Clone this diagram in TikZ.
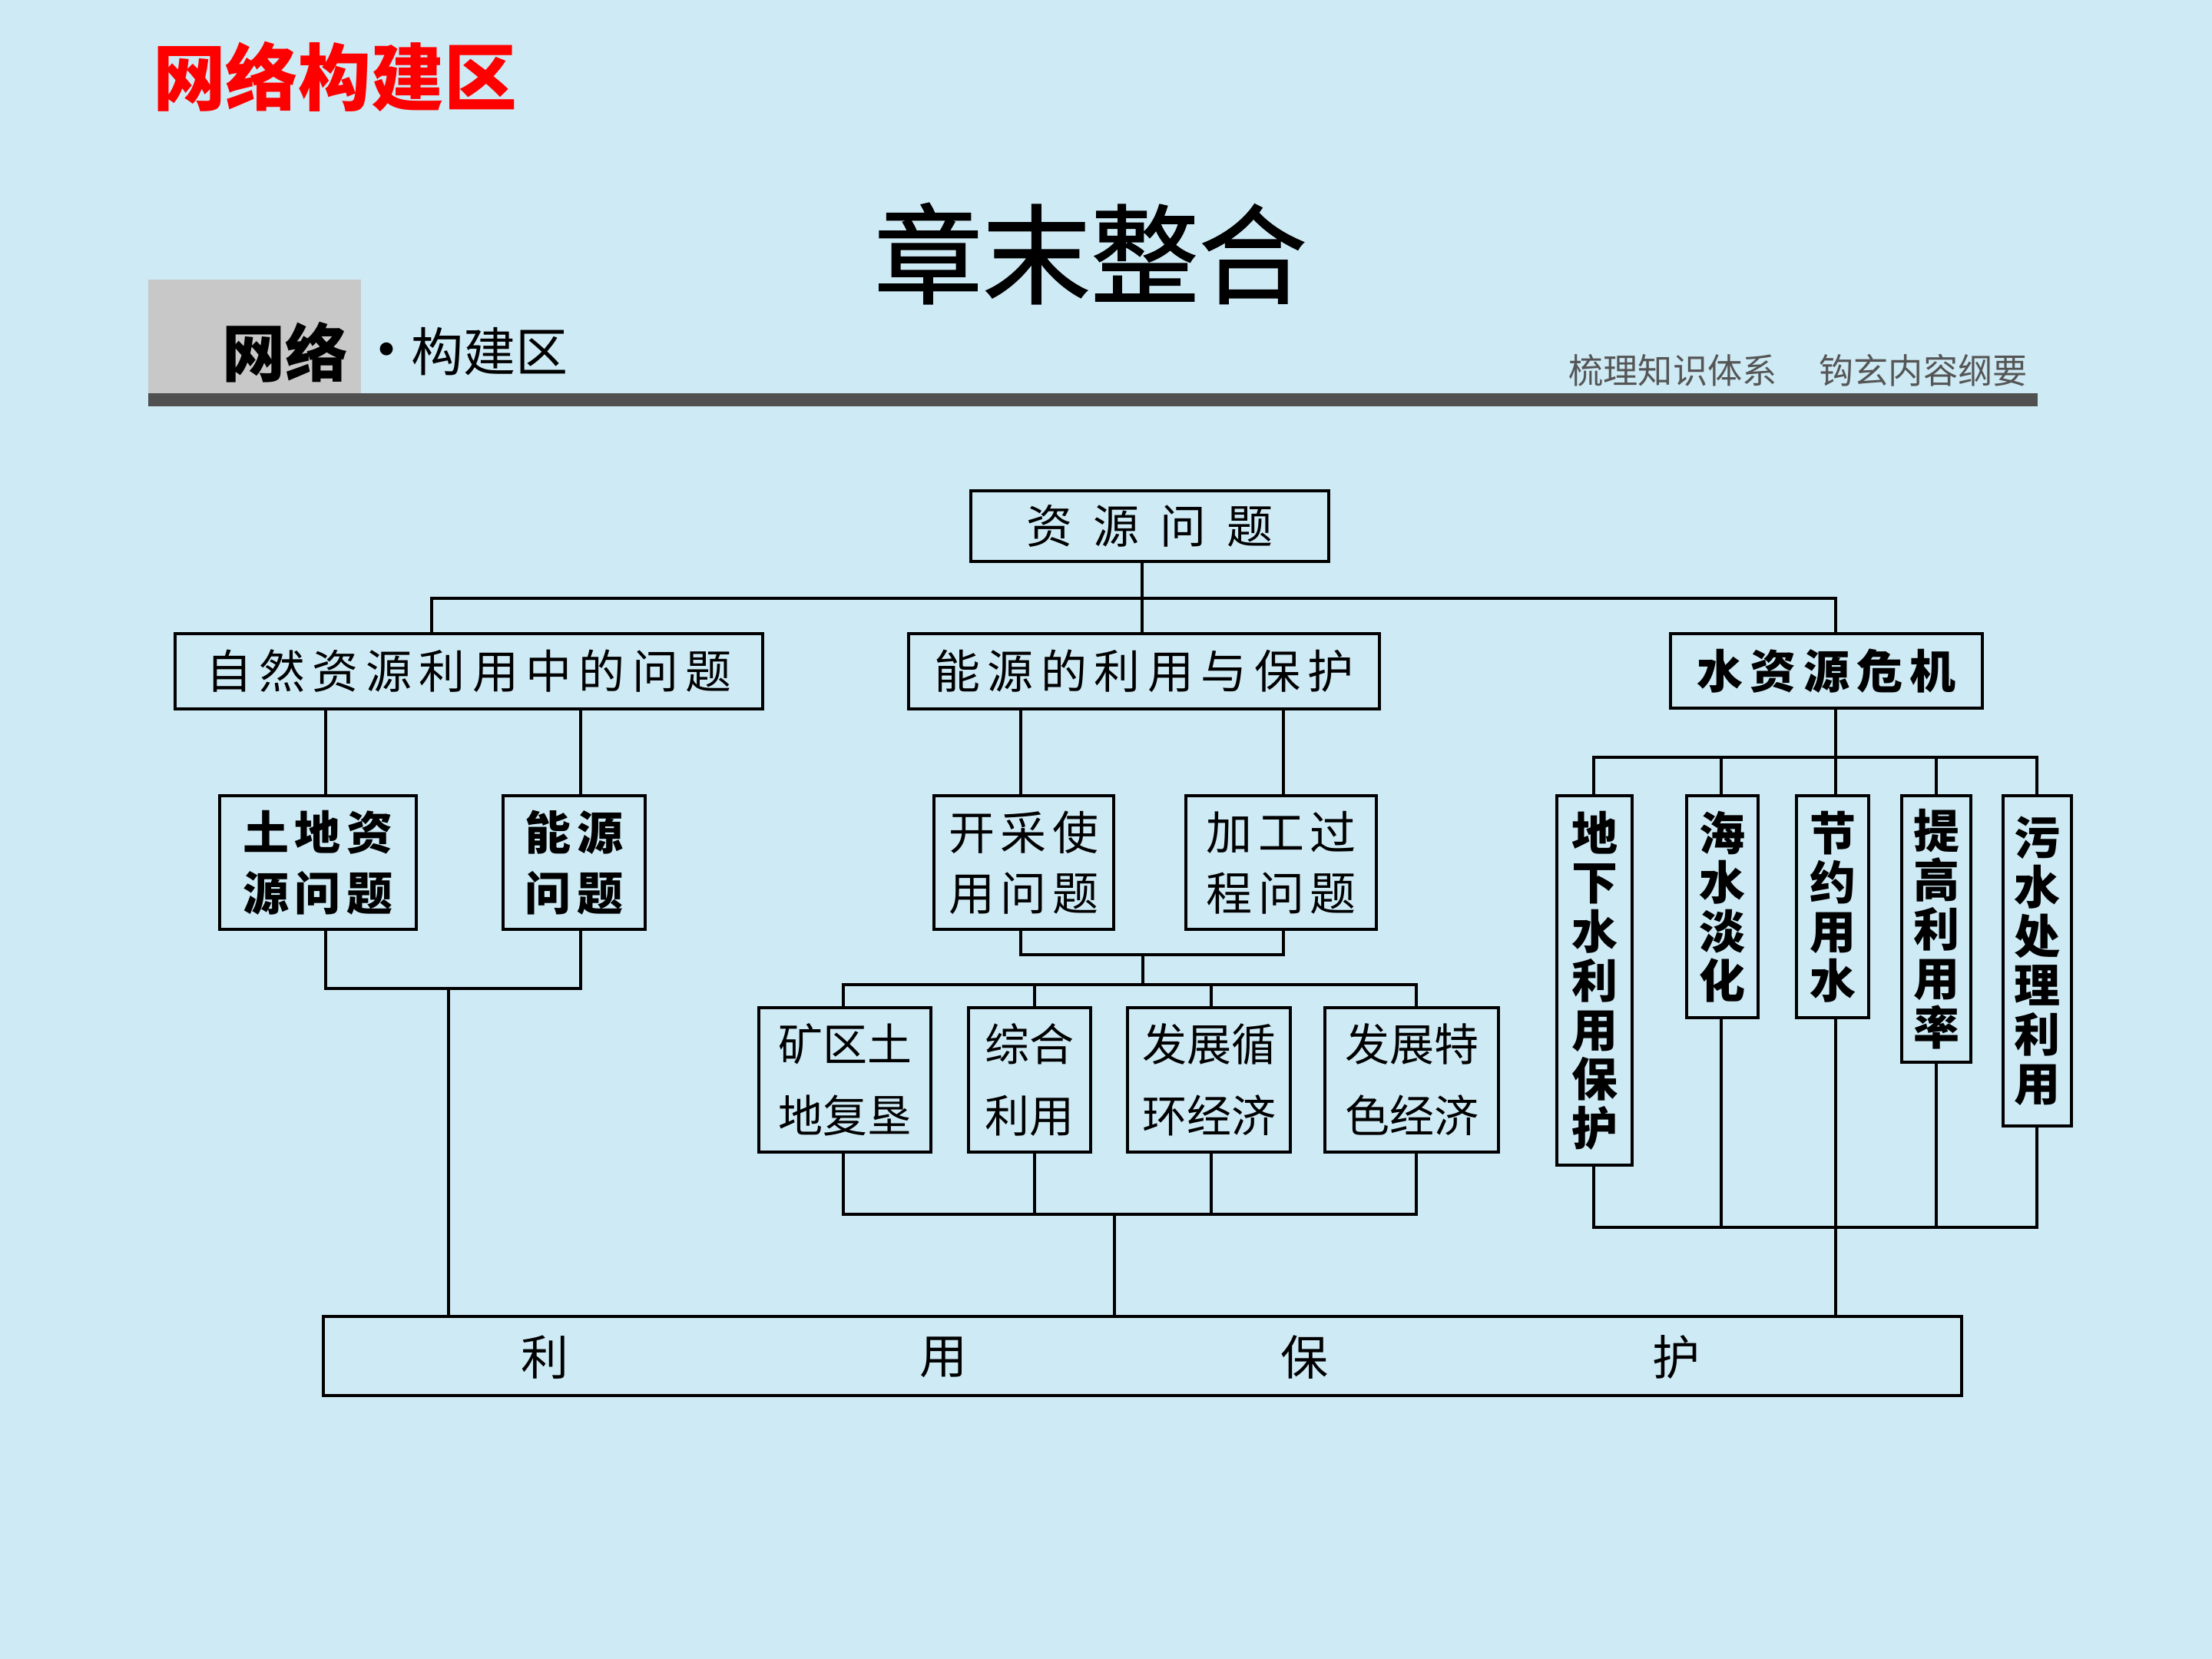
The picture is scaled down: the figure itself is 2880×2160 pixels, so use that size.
\documentclass[tikz,border=0pt]{standalone}
\usepackage{fontspec}
\newfontfamily\hei{Noto Sans CJK SC}
\newfontfamily\heimed[FakeBold=1.2]{Noto Sans CJK SC}
\definecolor{bgblue}{RGB}{206,234,245}
\definecolor{hdrgray}{RGB}{200,200,200}
\definecolor{bargray}{RGB}{80,80,80}
\definecolor{subgray}{RGB}{85,85,85}
\definecolor{titlered}{RGB}{255,0,0}
\makeatletter
\newcommand\lsp[2]{\def\ls@first{x}\@tfor\ls@c:=#2\do{\ifx\ls@first\@empty\hspace*{#1}\fi\ls@c\let\ls@first\@empty}}
\makeatother
\tikzset{
  box/.style={draw=black, line width=1.15pt, inner sep=0pt, align=center},
  conn/.style={draw=black, line width=0.8pt, line cap=rect},
  fA/.style={font=\hei\fontsize{15}{19.75}\selectfont},
  fAb/.style={font=\hei\bfseries\fontsize{15}{19.75}\selectfont},
  fC/.style={font=\hei\fontsize{14.5}{23.25}\selectfont},
  fV/.style={font=\hei\bfseries\fontsize{15}{16}\selectfont},
  fP/.style={font=\hei\fontsize{15.5}{18}\selectfont},
}
\newcommand\bx[7]{\node[box, minimum width={(#5-#3)*0.25pt}, minimum height={(#6-#4)*0.25pt}, #1] (#2) at ({(#3+#5)/2},{(#4+#6)/2}) {#7};}
\begin{document}
\begin{tikzpicture}[x=0.25pt,y=-0.25pt]
\fill[bgblue] (0,0) rectangle (2880,2160);
\useasboundingbox (0,0) rectangle (2880,2160);
% header
\node[font=\hei\bfseries\fontsize{23.7}{26}\selectfont, text=titlered, inner sep=0pt] (ttl) at (436,100) {网络构建区};
\node[font=\heimed\fontsize{35.2}{38}\selectfont, inner sep=0pt] (zm) at (1420,330) {章末整合};
\fill[hdrgray] (193,364) rectangle (470,512);
\fill[bargray] (193,512) rectangle (2653,529);
\node[font=\hei\bfseries\fontsize{20.5}{22}\selectfont, inner sep=0pt] (wl) at (371,459) {网络};
\node[font=\hei\bfseries\fontsize{15}{18}\selectfont, inner sep=0pt] (dot) at (503,462) {·};
\node[font=\hei\fontsize{17}{20}\selectfont, inner sep=0pt] (gj) at (637,458) {构建区};
\node[font=\hei\fontsize{11.3}{13}\selectfont, text=subgray, inner sep=0pt] (s1) at (2178,482) {梳理知识体系};
\node[font=\hei\fontsize{11.3}{13}\selectfont, text=subgray, inner sep=0pt] (s2) at (2504,482) {钩玄内容纲要};
% level 0
\bx{fA}{T}{1264}{639}{1730}{731}{\lsp{6.75pt}{资源问题}}
% level 1
\bx{fA}{L1a}{228}{825}{993}{923}{\lsp{2.35pt}{自然资源利用中的问题}}
\bx{fA}{L1b}{1183}{825}{1796}{923}{\lsp{2.35pt}{能源的利用与保护}}
\bx{fAb}{L1c}{2175}{825}{2581}{922}{\lsp{2.35pt}{水资源危机}}
% level 2
\bx{fAb}{A1}{286}{1036}{542}{1210}{\lsp{2pt}{土地资}\\\lsp{2pt}{源问题}}
\bx{fAb}{A2}{655}{1036}{840}{1210}{\lsp{2pt}{能源}\\\lsp{2pt}{问题}}
\bx{fA}{B1}{1216}{1036}{1450}{1210}{\lsp{2pt}{开采使}\\\lsp{2pt}{用问题}}
\bx{fA}{B2}{1544}{1036}{1792}{1210}{\lsp{2pt}{加工过}\\\lsp{2pt}{程问题}}
% level 3
\bx{fC}{C1}{988}{1312}{1212}{1500}{矿区土\\地复垦}
\bx{fC}{C2}{1261}{1312}{1420}{1500}{综合\\利用}
\bx{fC}{C3}{1468}{1312}{1680}{1500}{发展循\\环经济}
\bx{fC}{C4}{1725}{1312}{1951}{1500}{发展特\\色经济}
% water column
\bx{fV}{W1}{2027}{1036}{2125}{1517}{地\\下\\水\\利\\用\\保\\护}
\bx{fV}{W2}{2196}{1036}{2289}{1325}{海\\水\\淡\\化}
\bx{fV}{W3}{2339}{1036}{2433}{1325}{节\\约\\用\\水}
\bx{fV}{W4}{2476}{1036}{2566}{1383}{提\\高\\利\\用\\率}
\bx{fV}{W5}{2608}{1036}{2697}{1466}{污\\水\\处\\理\\利\\用}
% bottom
\bx{}{P}{421}{1714}{2554}{1817}{}
\node[fP, inner sep=0pt] (p1) at (709,1767) {利};
\node[fP, inner sep=0pt] (p2) at (1228,1767) {用};
\node[fP, inner sep=0pt] (p3) at (1698,1767) {保};
\node[fP, inner sep=0pt] (p4) at (2182,1767) {护};
% coordinates
\coordinate (yTop) at (0,779);
\coordinate (yA) at (0,1287);
\coordinate (yB1) at (0,1243);
\coordinate (yB2) at (0,1282);
\coordinate (yB3) at (0,1581);
\coordinate (yW1) at (0,986);
\coordinate (yW2) at (0,1598);
\coordinate (x562) at (562,0);
\coordinate (x1487) at (1487,0);
\coordinate (x2391) at (2390,0);
\coordinate (x424) at (424,0);
\coordinate (x756) at (756,0);
\coordinate (x584) at (584,0);
\coordinate (x1328) at (1329,0);
\coordinate (x1670) at (1671,0);
\coordinate (x1488) at (1488,0);
\coordinate (x1098) at (1098,0);
\coordinate (x1347) at (1347,0);
\coordinate (x1577) at (1577,0);
\coordinate (x1844) at (1844,0);
\coordinate (x1451) at (1451,0);
\coordinate (x2075) at (2075,0);
\coordinate (x2241) at (2241,0);
\coordinate (x2521) at (2521,0);
\coordinate (x2652) at (2652,0);
% connectors
\draw[conn, line width=1pt] (x562 |- L1a.north) -- (x562 |- yTop) -- (x2391 |- yTop) -- (x2391 |- L1c.north);
\draw[conn] (x1487 |- T.south) -- (x1487 |- L1b.north);
\draw[conn] (x424 |- L1a.south) -- (x424 |- A1.north);
\draw[conn] (x756 |- L1a.south) -- (x756 |- A2.north);
\draw[conn] (x424 |- A1.south) -- (x424 |- yA) -- (x756 |- yA) -- (x756 |- A2.south);
\draw[conn] (x584 |- yA) -- (x584 |- P.north);
\draw[conn] (x1328 |- L1b.south) -- (x1328 |- B1.north);
\draw[conn] (x1670 |- L1b.south) -- (x1670 |- B2.north);
\draw[conn] (x1328 |- B1.south) -- (x1328 |- yB1) -- (x1670 |- yB1) -- (x1670 |- B2.south);
\draw[conn] (x1488 |- yB1) -- (x1488 |- yB2);
\draw[conn] (x1098 |- C1.north) -- (x1098 |- yB2) -- (x1844 |- yB2) -- (x1844 |- C4.north);
\draw[conn] (x1347 |- yB2) -- (x1347 |- C2.north);
\draw[conn] (x1577 |- yB2) -- (x1577 |- C3.north);
\draw[conn] (x1098 |- C1.south) -- (x1098 |- yB3) -- (x1844 |- yB3) -- (x1844 |- C4.south);
\draw[conn] (x1347 |- C2.south) -- (x1347 |- yB3);
\draw[conn] (x1577 |- C3.south) -- (x1577 |- yB3);
\draw[conn] (x1451 |- yB3) -- (x1451 |- P.north);
\draw[conn] (x2391 |- L1c.south) -- (x2391 |- W3.north);
\draw[conn] (x2075 |- W1.north) -- (x2075 |- yW1) -- (x2652 |- yW1) -- (x2652 |- W5.north);
\draw[conn] (x2241 |- yW1) -- (x2241 |- W2.north);
\draw[conn] (x2521 |- yW1) -- (x2521 |- W4.north);
\draw[conn] (x2075 |- W1.south) -- (x2075 |- yW2) -- (x2652 |- yW2) -- (x2652 |- W5.south);
\draw[conn] (x2241 |- W2.south) -- (x2241 |- yW2);
\draw[conn] (x2521 |- W4.south) -- (x2521 |- yW2);
\draw[conn] (x2391 |- W3.south) -- (x2391 |- P.north);
\end{tikzpicture}
\end{document}
